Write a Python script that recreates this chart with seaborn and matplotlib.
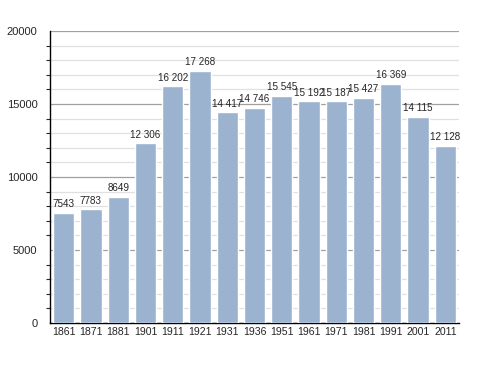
import pandas as pd
import seaborn as sns
import matplotlib.pyplot as plt
from matplotlib.ticker import MultipleLocator

years = ["1861", "1871", "1881", "1901", "1911", "1921", "1931", "1936",
         "1951", "1961", "1971", "1981", "1991", "2001", "2011"]
population = [7543, 7783, 8649, 12306, 16202, 17268, 14417, 14746,
              15545, 15192, 15187, 15427, 16369, 14115, 12128]

df = pd.DataFrame({"year": years, "pop": population})

sns.set_style("white")
plt.rcParams["font.family"] = ["Liberation Sans", "DejaVu Sans"]

fig = plt.figure(figsize=(4.88, 3.73), dpi=100)
ax = fig.add_axes([0.1025, 0.134, 0.838, 0.783])

sns.barplot(data=df, x="year", y="pop", color="#9bb3cf", width=0.78,
            saturation=1, ax=ax, zorder=3)

ax.set_xlim(-0.5, len(years) - 0.5)
ax.set_ylim(0, 20000)
ax.yaxis.set_major_locator(MultipleLocator(5000))
ax.yaxis.set_minor_locator(MultipleLocator(1000))
ax.grid(axis="y", which="major", color="#a0a0a0", linestyle="-", linewidth=0.9)
ax.grid(axis="y", which="minor", color="#e0e0e0", linestyle="-", linewidth=0.9)
ax.set_axisbelow(True)

for s in ["top", "right"]:
    ax.spines[s].set_visible(False)
for s in ["left", "bottom"]:
    ax.spines[s].set_color("black")
    ax.spines[s].set_linewidth(1)

ax.tick_params(axis="y", which="major", length=4, width=0.8, labelsize=8, pad=5)
ax.tick_params(axis="y", which="minor", length=3, width=0.8, left=True)
ax.tick_params(axis="x", length=0, labelsize=7.6, pad=3)
ax.set_xlabel("")
ax.set_ylabel("")


def fmt(v):
    # thousands separated by a space above 9999, as on the original
    return f"{v:,}".replace(",", " ") if v >= 10000 else str(v)


for i, v in enumerate(population):
    ax.text(i, v + 250, fmt(v), ha="center", va="bottom", fontsize=7.1, zorder=4)

plt.savefig("out.png", dpi=100)
